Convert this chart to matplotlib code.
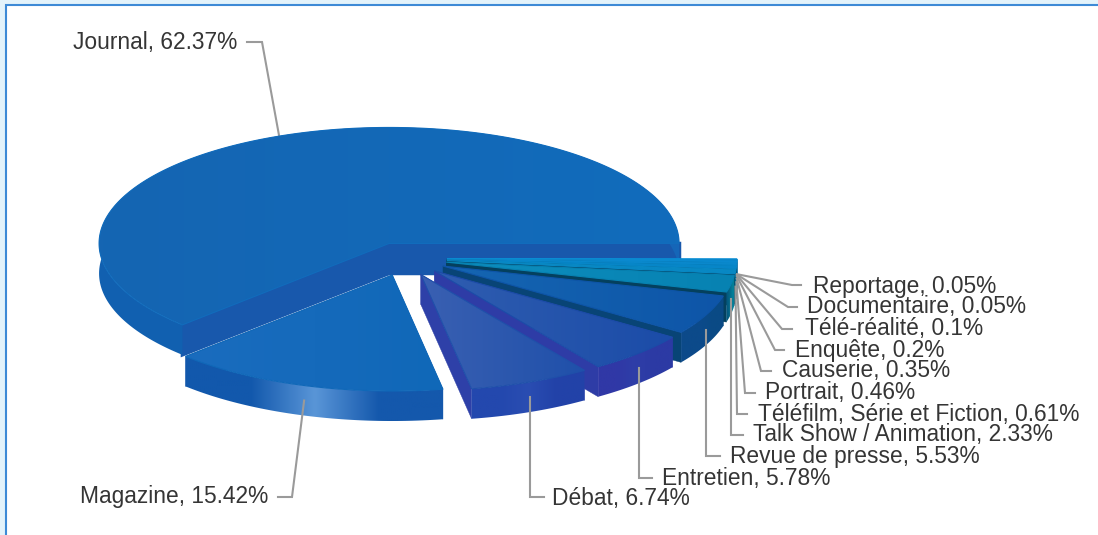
""" exploded 3d pie, share of programme types """
import numpy as np
import matplotlib
matplotlib.use("Agg")
import matplotlib.pyplot as plt
from matplotlib.colors import LinearSegmentedColormap
from matplotlib.patches import Polygon, Rectangle

plt.rcParams["font.family"] = ["Liberation Sans", "DejaVu Sans"]

labels = ["Journal", "Magazine", "Débat", "Entretien", "Revue de presse", "Talk Show / Animation",
          "Téléfilm, Série et Fiction", "Portrait", "Causerie", "Enquête", "Télé-réalité",
          "Documentaire", "Reportage"]
values = [62.37, 15.42, 6.74, 5.78, 5.53, 2.33, 0.61, 0.46, 0.35, 0.2, 0.1, 0.05, 0.05]
value_text = ["62.37", "15.42", "6.74", "5.78", "5.53", "2.33", "0.61", "0.46", "0.35", "0.2", "0.1", "0.05", "0.05"]

# (top left, top right, wall left, wall mid, wall right, cut face)
styles = [
    ("#1565b2", "#116cbc", "#1160b0", "#1262b4", "#1566b8", "#1858ac"),
    ("#1a6cbe", "#1068b8", "#1258ac", "#5a96d8", "#1458ac", "#1458ac"),
    ("#3a60b2", "#1f50aa", "#2348ae", "#2a4db2", "#2242a8", "#2e40a8"),
    ("#2f5db0", "#1b4ca8", "#3038a6", "#2e3ea8", "#2c3aa4", "#2e3ca6"),
    ("#1566b2", "#0e55a8", "#0c4a8a", "#0c4a8a", "#0a4a85", "#084476"),
    ("#0d8ebe", "#0782b2", "#045a80", "#056a8a", "#047f98", "#04405e"),
    ("#0888c4", "#0888c4", "#056a90", "#056a90", "#056a90", "#063c5c"),
    ("#0786c8", "#0786c8", "#056a90", "#056a90", "#056a90", "#05507a"),
    ("#0a88cc", "#0a88cc", "#056a90", "#056a90", "#056a90", "#05507a"),
    ("#0a8ad0", "#0a8ad0", "#056a90", "#056a90", "#056a90", "#0668a0"),
    ("#0a8ad0", "#0a8ad0", "#056a90", "#056a90", "#056a90", "#0668a0"),
    ("#0a8ed4", "#0a8ed4", "#056a90", "#056a90", "#056a90", "#0770b0"),
    ("#0a90d8", "#0a90d8", "#056a90", "#056a90", "#056a90", "#0770b0"),
]

# pie geometry, in pixels of the output image
CX, CY = 405, 259
RX, SQUASH, DEPTH, EXPLODE = 290, 0.4, 30, 42

# text anchor x, text y, alignment, elbow of the leader (None = straight down from the slice)
label_layout = [
    (237, 42, "right", [(262, 42), (247, 42)]),
    (268, 497, "right", [(292, 497), (278, 497)]),
    (552, 499, "left", [(None, 497), (544, 497)]),
    (662, 478, "left", [(None, 478), (652, 478)]),
    (730, 456, "left", [(None, 456), (720, 456)]),
    (753, 435, "left", [(None, 435), (743, 435)]),
    (758, 414, "left", [(737, 414), (747, 414)]),
    (765, 393, "left", [(745, 393), (755, 393)]),
    (782, 371, "left", [(761, 371), (771, 371)]),
    (795, 350, "left", [(775, 350), (784, 350)]),
    (805, 329, "left", [(782, 329), (792, 329)]),
    (807, 307, "left", [(788, 307), (797, 307)]),
    (813, 286, "left", [(792, 285), (801, 285)]),
]


def rim(cx, cy, theta):
    """points on the squashed circle, y goes downward on screen"""
    t = np.radians(theta)
    return np.column_stack([cx + RX * np.cos(t), cy - RX * SQUASH * np.sin(t)])


def gradient_fill(ax, outline, colors, zorder):
    """fill a polygon with a left to right gradient, clipped image"""
    clip = Polygon(outline, closed=True, transform=ax.transData, fc="none", ec="none", zorder=zorder)
    ax.add_patch(clip)
    cmap = LinearSegmentedColormap.from_list("fill", colors)
    img = ax.imshow(np.linspace(0, 1, 128).reshape(1, -1), cmap=cmap, aspect="auto",
                    extent=(outline[:, 0].min() - 1, outline[:, 0].max() + 1,
                            outline[:, 1].max() + 1, outline[:, 1].min() - 1),
                    zorder=zorder, interpolation="bilinear")
    img.set_clip_path(clip)


def draw_slice(ax, start, end, style, zorder):
    mid = np.radians((start + end) / 2)
    cx = CX + EXPLODE * np.cos(mid)
    cy = CY - EXPLODE * SQUASH * np.sin(mid)
    top_l, top_r, wall_l, wall_m, wall_r, cut = style

    # the two cut faces, only seen when the top does not cover them
    # wider edge on the big slice closes the hairline towards the magazine slice
    cut_lw = 2.5 if end - start > 100 else 0.3
    for theta in (start, end):
        p = rim(cx, cy, np.array([theta]))[0]
        face = [(cx, cy), p, (p[0], p[1] + DEPTH), (cx, cy + DEPTH)]
        ax.add_patch(Polygon(face, closed=True, fc=cut, ec=cut, lw=cut_lw, zorder=zorder))

    # outer wall
    thetas = np.linspace(start, end, max(int((end - start) * 2), 2) + 1)
    pts = rim(cx, cy, thetas)
    lower = pts + [0, DEPTH]
    gradient_fill(ax, np.vstack([pts, lower[::-1]]), [wall_l, wall_l, wall_m, wall_r, wall_r], zorder)

    # top
    outline = np.vstack([[cx, cy], pts])
    gradient_fill(ax, outline, [top_l, top_r], zorder)
    ax.add_patch(Polygon(outline, closed=True, fc="none", ec=top_r, lw=0.8, zorder=zorder))
    return cx, cy


fig = plt.figure(figsize=(10.98, 5.35), dpi=100, facecolor="#e3f3fb")
ax = fig.add_axes([0, 0, 1, 1])
ax.set_axis_off()
ax.add_patch(Rectangle((5.5, 4.5), 1200, 600, fc="white", ec="#3d8ad6", lw=1.5, zorder=0))

shares = np.array(values) / np.sum(values) * 360
ends = np.cumsum(shares)
starts = ends - shares

# back to front: journal, then the small slices from the east, big ones last
order = [0] + list(range(len(values) - 1, 0, -1))
centers = {}
for z, i in enumerate(order):
    centers[i] = draw_slice(ax, starts[i], ends[i], styles[i], 10 + z)

for i, (tx, ty, ha, elbow) in enumerate(label_layout):
    cx, cy = centers[i]
    p = rim(cx, cy, np.array([(starts[i] + ends[i]) / 2]))[0]
    # journal's leader stops behind the pie, the others land on the wall
    y0 = p[1] if i == 0 else p[1] + DEPTH / 2
    way = [(p[0], y0)]
    for ex, ey in elbow:
        way.append((p[0] if ex is None else ex, ey))
    xs_l, ys_l = zip(*way)
    ax.plot(xs_l, ys_l, color="#9a9a9a", lw=1.5, solid_joinstyle="miter", zorder=5 if i == 0 else 40)
    ax.text(tx, ty, f"{labels[i]}, {value_text[i]}%", ha=ha, va="center", fontsize=16.4,
            color="#353535", zorder=50)

ax.set_xlim(0, 1098)
ax.set_ylim(535, 0)
fig.savefig("out.png", dpi=100, facecolor=fig.get_facecolor())
